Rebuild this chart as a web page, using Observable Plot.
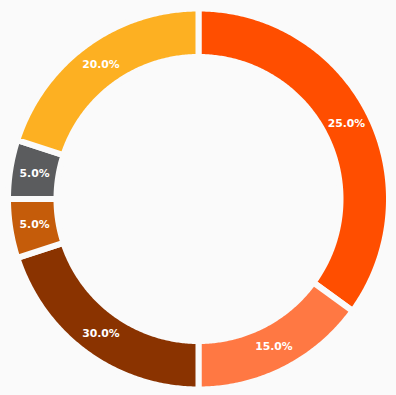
<!DOCTYPE html>
<html>
<head>
<meta charset="utf-8">
<script src="https://cdn.jsdelivr.net/npm/d3@7"></script>
<script src="https://cdn.jsdelivr.net/npm/@observablehq/plot@0.6"></script>
<style>
  html, body { margin: 0; padding: 0; background: #fafafa; }
  #chart svg { display: block; }
</style>
</head>
<body>
<div id="chart"></div>
<script>
// Slice keys, in drawing order (clockwise from 12 o'clock)
const slices = ["A", "B", "C", "D", "E", "F"];
// Angular shares as drawn in the picture
const values = [35, 15, 20, 5, 5, 20];
// Text printed on each slice
const labels = ["25.0%", "15.0%", "30.0%", "5.0%", "5.0%", "20.0%"];
const colors = ["#ff4e00", "#ff7843", "#8a3300", "#c55c0a", "#5b5c5e", "#fdb022"];

const R_OUT = 190.5, R_IN = 142, R_LABEL = 166;
const pie = d3.pie().sort(null)(values);
const pt = (r, a) => [r * Math.sin(a), -r * Math.cos(a)];

const features = pie.map((p, i) => {
  const n = Math.max(8, Math.ceil((p.endAngle - p.startAngle) / 0.01));
  const outer = d3.range(n + 1).map(k => pt(R_OUT, p.startAngle + (p.endAngle - p.startAngle) * k / n));
  const inner = d3.range(n + 1).map(k => pt(R_IN, p.endAngle - (p.endAngle - p.startAngle) * k / n));
  const ring = [...outer, ...inner, outer[0]];
  return {type: "Feature", properties: {key: slices[i]}, geometry: {type: "Polygon", coordinates: [ring]}};
});

const labelData = pie.map((p, i) => {
  const [x, y] = pt(R_LABEL, (p.startAngle + p.endAngle) / 2);
  return {x, y, text: labels[i]};
});

const chart = Plot.plot({
  width: 396,
  height: 395,
  marginLeft: 7.5,
  marginRight: 7.5,
  marginTop: 8,
  marginBottom: 6,
  style: {background: "#fafafa"},
  projection: {type: "identity", domain: {type: "MultiPoint", coordinates: [[-R_OUT, -R_OUT], [R_OUT, R_OUT]]}},
  color: {domain: slices, range: colors},
  marks: [
    Plot.geo(features, {fill: d => d.properties.key, stroke: "#fafafa", strokeWidth: 6}),
    Plot.text(labelData, {x: "x", y: "y", text: "text", fill: "white", fontWeight: "bold", fontSize: 10.8, fontFamily: "DejaVu Sans", textAnchor: "middle", lineAnchor: "middle"})
  ]
});
document.getElementById("chart").appendChild(chart);
</script>
</body>
</html>
